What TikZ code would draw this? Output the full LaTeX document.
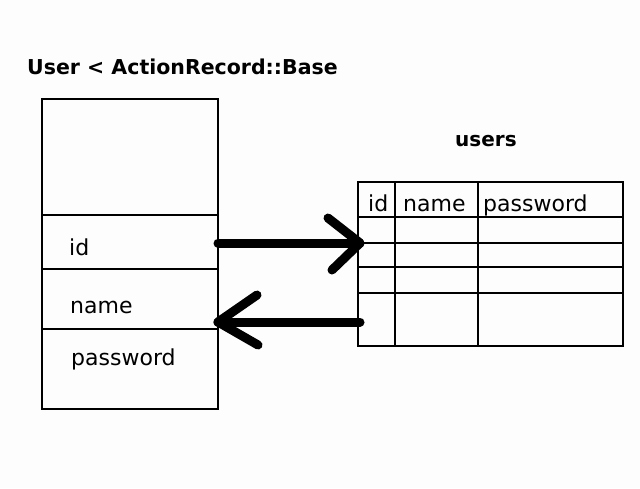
\documentclass[tikz,border=0pt]{standalone}
\usepackage{fontspec}
\setmainfont{DejaVu Sans}
\usetikzlibrary{calc}
\begin{document}
\begin{tikzpicture}[x=1pt,y=-1pt,
  frame/.style={line width=1.3pt,draw=black},
  lbl/.style={anchor=base west,inner sep=0pt,font=\fontsize{22}{26}\selectfont},
  ttl/.style={anchor=base west,inner sep=0pt,font=\fontsize{20.5}{24}\selectfont\bfseries},
  bigarrow/.style={line width=9pt,line cap=round,line join=round}]
\useasboundingbox[fill={rgb,255:red,252;green,253;blue,252}] (0,0) rectangle (640,488);
% title
\node[ttl] (title) at (27,74) {User < ActionRecord::Base};
\node[ttl,font=\fontsize{20}{24}\selectfont\bfseries] (users) at (455,146) {users};
% class box
\draw[frame] (42,99) rectangle (218,409);
\draw[frame] (42,215) -- (218,215);
\draw[frame] (42,269) -- (218,269);
\draw[frame] (42,329) -- (218,329);
\node[lbl] (cid) at (69,255) {id};
\node[lbl] (cname) at (70,313) {name};
\node[lbl] (cpw) at (71,365) {password};
% table
\draw[frame] (358,182) rectangle (623,346);
\draw[frame] (395,182) -- (395,346);
\draw[frame] (478,182) -- (478,346);
\draw[frame] (358,217) -- (623,217);
\draw[frame] (358,243) -- (623,243);
\draw[frame] (358,267) -- (623,267);
\draw[frame] (358,293) -- (623,293);
\node[lbl] (tid) at (368,211) {id};
\node[lbl] (tname) at (403,211) {name};
\node[lbl] (tpw) at (483,211) {password};
% arrows
\coordinate (a1s) at (218,243);
\coordinate (a1e) at (360,243);
\coordinate (a2s) at (360,322);
\coordinate (a2e) at (218,322);
\draw[bigarrow] (a1s) -- (a1e);
\draw[bigarrow] ($(a1e)+(-32,-25)$) -- (a1e) -- ($(a1e)+(-28,27)$);
\draw[bigarrow] (a2s) -- (a2e);
\draw[bigarrow] ($(a2e)+(39,-27)$) -- (a2e) -- ($(a2e)+(40,23)$);
\end{tikzpicture}
\end{document}
